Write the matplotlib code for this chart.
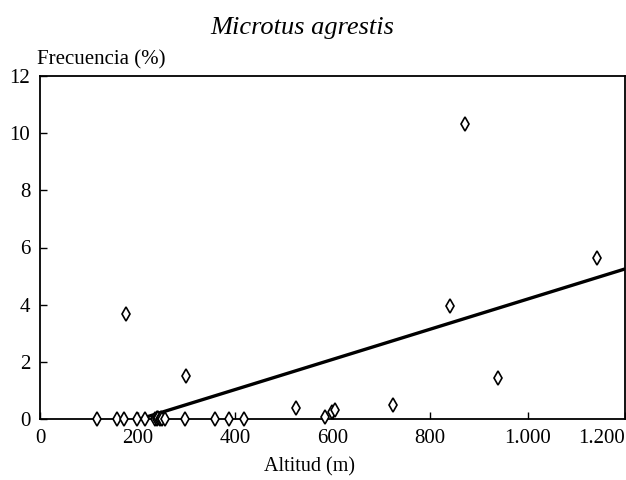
import matplotlib
matplotlib.use("Agg")
import matplotlib.pyplot as plt
import numpy as np

plt.rcParams['font.family'] = ['Liberation Serif', 'DejaVu Serif']

# altitud (m) y frecuencia (%)
altitud = [117, 158, 172, 177, 199, 216, 236, 239, 241, 243, 246, 248, 250, 257, 298, 299,
           359, 388, 419, 525, 585, 598, 605, 725, 840, 871, 940, 1142]
frecuencia = [0, 0, 0, 3.67, 0, 0, 0, 0.05, 0, 0.03, 0, 0.05, 0, 0, 0, 1.50,
              0, 0, 0, 0.38, 0.07, 0.25, 0.33, 0.49, 3.96, 10.31, 1.44, 5.65]

# recta de regresion (extremos leidos)
recta_x = [205, 1200]
recta_y = [0, 5.25]

xticks = [0, 200, 400, 600, 800, 1000, 1200]
xlabels = ['0', '200', '400', '600', '800', '1.000', '1.200']
yticks = [0, 2, 4, 6, 8, 10, 12]

fig = plt.figure(figsize=(6.26, 4.8), dpi=100)
ax = fig.add_axes([40/626, 61/480, 585/626, 343/480])

ax.plot(recta_x, recta_y, color='black', lw=2.4, solid_capstyle='butt')
ax.plot(altitud, frecuencia, linestyle='none', marker='d', markersize=7,
        markerfacecolor='white', markeredgecolor='black', markeredgewidth=1.2,
        clip_on=False, zorder=3)

ax.set_xlim(0, 1200)
ax.set_ylim(0, 12)
ax.set_xticks(xticks)
ax.set_xticklabels(xlabels)
ax.set_yticks(yticks)
ax.tick_params(direction='in', length=5, width=1, labelsize=15, pad=7)
ax.get_xticklabels()[-1].set_horizontalalignment('right')
for s in ax.spines.values():
    s.set_linewidth(1.3)

fig.text(302/626, 1 - 28/480, 'Microtus agrestis', style='italic', fontsize=19,
         ha='center', va='center')
fig.text(37/626, 1 - 60/480, 'Frecuencia (%)', fontsize=15, ha='left', va='center')
fig.text(310/626, 1 - 467/480, 'Altitud (m)', fontsize=14.5, ha='center', va='center')

fig.savefig('out.png', dpi=100)
